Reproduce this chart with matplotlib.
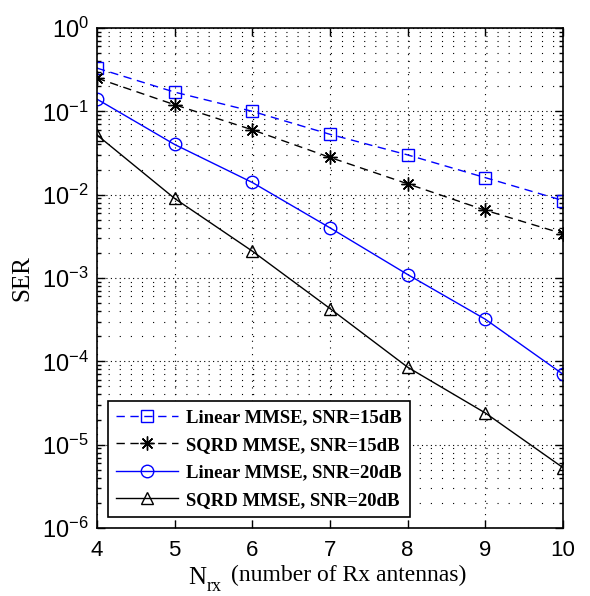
import matplotlib
matplotlib.use("Agg")
import matplotlib.pyplot as plt
from matplotlib.ticker import LogLocator, NullFormatter, FixedLocator

plt.rcParams['mathtext.fontset'] = 'custom'
plt.rcParams['mathtext.rm'] = 'Liberation Sans'
plt.rcParams['mathtext.it'] = 'Liberation Sans'
plt.rcParams['mathtext.bf'] = 'Liberation Sans'

nrx = [4, 5, 6, 7, 8, 9, 10]
lin15 = [0.33, 0.17, 0.10, 0.053, 0.030, 0.016, 0.0085]
sqrd15 = [0.25, 0.12, 0.060, 0.028, 0.0135, 0.0065, 0.0034]
lin20 = [0.14, 0.040, 0.014, 0.0040, 0.0011, 0.00032, 0.00007]
sqrd20 = [0.052, 0.0090, 0.0021, 0.00043, 0.000085, 0.000024, 0.0000053]
labels = ["Linear MMSE, SNR=15dB", "SQRD MMSE, SNR=15dB",
          "Linear MMSE, SNR=20dB", "SQRD MMSE, SNR=20dB"]
xticks = [4, 5, 6, 7, 8, 9, 10]

W, H = 590, 596
fig = plt.figure(figsize=(W / 100, H / 100), dpi=100)
L, R, T, B = 97, 563, 28, 528
ax = fig.add_axes([L / W, 1 - B / H, (R - L) / W, (B - T) / H])

blue = (0, 0, 1)
ax.plot(nrx, lin15, color=blue, ls=(0, (6, 4)), lw=1.0, marker='s', ms=9,
        mfc='none', mec=blue, mew=1.0, label=labels[0])
ax.plot(nrx, sqrd15, color='black', ls=(0, (6, 4)), lw=1.0, marker=(8, 2, 0), ms=10,
        mfc='black', mec='black', mew=1.0, label=labels[1])
ax.plot(nrx, lin20, color=blue, ls='-', lw=1.0, marker='o', ms=9,
        mfc='none', mec=blue, mew=1.0, label=labels[2])
ax.plot(nrx, sqrd20, color='black', ls='-', lw=1.0, marker='^', ms=9,
        mfc='none', mec='black', mew=1.0, label=labels[3])

ax.set_yscale('log')
ax.set_xlim(4, 10)
ax.set_ylim(1e-6, 1)
ax.xaxis.set_major_locator(FixedLocator(xticks))
ax.yaxis.set_major_locator(LogLocator(base=10, numticks=10))
ax.yaxis.set_minor_locator(LogLocator(base=10, subs=range(2, 10), numticks=100))
ax.yaxis.set_minor_formatter(NullFormatter())

ax.grid(True, which='major', axis='x', color='black', ls=(0, (1, 5)), lw=0.8)
ax.grid(True, which='major', axis='y', color='black', ls=(0, (1, 3)), lw=0.8)
ax.grid(True, which='minor', axis='y', color='black', ls=(0, (1, 9)), lw=0.8)

ax.tick_params(which='both', direction='in', top=True, right=True,
               width=1.0, color='black')
ax.tick_params(axis='x', labelsize=16, pad=9)
ax.tick_params(axis='y', labelsize=17, pad=6)
ax.tick_params(which='major', length=6)
ax.tick_params(which='minor', length=3)
for lab in ax.get_xticklabels() + ax.get_yticklabels():
    lab.set_fontfamily('Liberation Sans')
for s in ax.spines.values():
    s.set_linewidth(1.2)

ax.set_ylabel('SER', fontfamily='Liberation Serif', fontsize=18, labelpad=6)
ax.xaxis.label.set_visible(False)

fig.text(188 / W, 1 - 584 / H, 'N', fontfamily='Liberation Serif', fontsize=18,
         ha='left', va='baseline')
fig.text(207 / W, 1 - 591 / H, 'rx', fontfamily='Liberation Serif', fontsize=13,
         ha='left', va='baseline')
fig.text(231 / W, 1 - 581 / H, '(number of Rx antennas)', fontfamily='Liberation Serif',
         fontsize=17, ha='left', va='baseline')

leg = ax.legend(loc='lower left', bbox_to_anchor=((108 - L) / (R - L), (B - 517) / (B - T)),
                borderaxespad=0, prop={'family': 'Liberation Serif', 'weight': 'bold', 'size': 13.5},
                frameon=True, fancybox=False, edgecolor='black', framealpha=1,
                handlelength=3.3, handletextpad=0.4, labelspacing=0.55, borderpad=0.45)
leg.get_frame().set_linewidth(1.2)

fig.savefig('out.png', dpi=100)
